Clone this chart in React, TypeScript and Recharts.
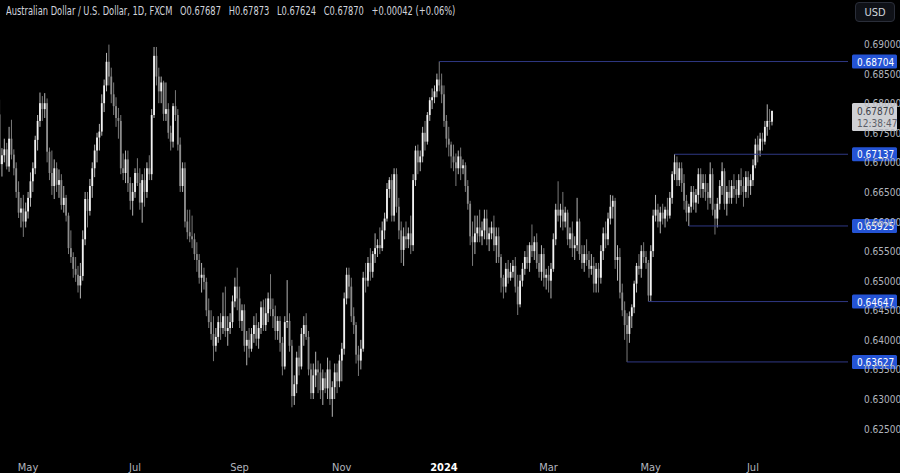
import React from "react";
import { ComposedChart, Bar, XAxis, YAxis, ReferenceLine } from "recharts";

// AUD/USD daily, FXCM — prices in pips (x 1e-4), one entry per trading day (Apr 13 2023 .. Jul 11 2024)
const opens = [
  6781, 6697, 6712, 6722, 6693, 6740, 6713, 6690, 6650, 6615, 6622, 6600,
  6617, 6640, 6668, 6690, 6738, 6770, 6800, 6790, 6800, 6718, 6682, 6660, 6690, 6662, 6670, 6628, 6640, 6610, 6555, 6540, 6520, 6510, 6492,
  6508, 6570, 6638, 6618, 6660, 6690, 6720, 6742, 6752, 6800, 6830, 6870, 6845, 6815, 6795, 6775, 6770, 6690, 6682, 6705, 6665, 6635,
  6650, 6682, 6665, 6632, 6670, 6650, 6690, 6680, 6780, 6880, 6845, 6820, 6835, 6782, 6790, 6750, 6735, 6795, 6780, 6730, 6660,
  6690, 6600, 6582, 6575, 6570, 6545, 6535, 6505, 6510, 6498, 6450, 6430, 6410, 6390, 6405, 6430, 6420, 6440, 6415, 6420, 6430, 6465, 6490,
  6470, 6432, 6450, 6390, 6400, 6385, 6410, 6425, 6402, 6420, 6455, 6425, 6445, 6470, 6452, 6440, 6415, 6432, 6395, 6355, 6430,
  6432, 6390, 6305, 6325, 6370, 6355, 6410, 6425, 6405, 6350, 6310, 6340, 6350, 6345, 6315, 6335, 6318, 6350, 6300, 6320, 6345, 6330,
  6365, 6385, 6470, 6510, 6490, 6440, 6425, 6375, 6365, 6385, 6505, 6500, 6530, 6515, 6545, 6555, 6560, 6555, 6585, 6605, 6655, 6670,
  6610, 6680, 6625, 6585, 6552, 6575, 6570, 6580, 6560, 6670, 6720, 6700, 6710, 6750, 6735, 6780, 6805, 6810, 6820, 6840, 6830,
  6815, 6770, 6740, 6730, 6710, 6700, 6690, 6710, 6690, 6695, 6660, 6630, 6575, 6565, 6580, 6590, 6575, 6585, 6605, 6570, 6580, 6590, 6560,
  6575, 6540, 6505, 6490, 6520, 6505, 6515, 6525, 6490, 6460, 6500, 6520, 6540, 6530, 6560, 6550, 6565, 6530, 6515, 6545, 6505,
  6510, 6500, 6520, 6570, 6620, 6610, 6620, 6600, 6615, 6570, 6580, 6555, 6560, 6600, 6545, 6530, 6545, 6535, 6520, 6525, 6495,
  6520, 6505, 6550, 6580, 6570, 6605, 6625, 6635, 6535, 6540, 6480, 6450, 6425, 6410, 6440, 6455, 6495, 6525, 6520, 6550, 6540, 6530,
  6475, 6550, 6610, 6620, 6600, 6615, 6605, 6620, 6610, 6640, 6680, 6700, 6670, 6690, 6665, 6635, 6615, 6625, 6650, 6632, 6645, 6680, 6655,
  6665, 6650, 6640, 6680, 6620, 6605, 6630, 6660, 6685, 6630, 6650, 6640, 6660, 6655, 6645, 6670, 6660, 6650, 6675, 6660,
  6670, 6695, 6730, 6720, 6740, 6735, 6760, 6770, 6768.7,
];

const highs = [
  6806, 6724, 6740, 6733, 6760, 6772, 6722, 6700, 6668, 6640, 6645, 6632,
  6650, 6683, 6700, 6745, 6780, 6818, 6812, 6817, 6808, 6725, 6720, 6705, 6700, 6688, 6680, 6660, 6645, 6615, 6585, 6548, 6540, 6525, 6530,
  6585, 6650, 6650, 6672, 6700, 6730, 6750, 6765, 6815, 6840, 6885, 6899, 6860, 6835, 6810, 6792, 6780, 6715, 6720, 6720, 6675, 6665,
  6690, 6707, 6690, 6680, 6690, 6700, 6712, 6790, 6895, 6895, 6860, 6845, 6838, 6835, 6800, 6762, 6800, 6822, 6790, 6742, 6700,
  6700, 6620, 6620, 6610, 6580, 6565, 6545, 6530, 6522, 6505, 6470, 6450, 6440, 6420, 6440, 6445, 6480, 6490, 6440, 6445, 6475, 6505, 6522,
  6490, 6460, 6460, 6415, 6420, 6420, 6440, 6445, 6430, 6465, 6468, 6470, 6480, 6511, 6470, 6458, 6440, 6440, 6405, 6440, 6501,
  6445, 6400, 6340, 6380, 6390, 6420, 6440, 6445, 6415, 6360, 6360, 6380, 6365, 6360, 6350, 6345, 6370, 6365, 6330, 6360, 6360, 6375,
  6395, 6480, 6522, 6522, 6505, 6455, 6430, 6390, 6400, 6515, 6530, 6540, 6555, 6550, 6580, 6570, 6590, 6600, 6615, 6665, 6675, 6680,
  6690, 6690, 6640, 6600, 6590, 6600, 6590, 6610, 6680, 6728, 6730, 6720, 6760, 6770, 6785, 6810, 6825, 6830, 6850, 6870.4, 6850,
  6830, 6780, 6760, 6735, 6730, 6715, 6720, 6725, 6705, 6700, 6670, 6635, 6600, 6610, 6610, 6620, 6600, 6620, 6620, 6590, 6600, 6610, 6590,
  6590, 6545, 6510, 6530, 6535, 6530, 6535, 6540, 6510, 6510, 6530, 6550, 6560, 6565, 6595, 6575, 6580, 6545, 6560, 6555, 6520,
  6525, 6530, 6580, 6630, 6668, 6630, 6650, 6625, 6620, 6590, 6600, 6575, 6640, 6605, 6560, 6560, 6570, 6550, 6545, 6540, 6530,
  6530, 6560, 6590, 6600, 6615, 6645, 6644, 6640, 6560, 6555, 6495, 6465, 6445, 6448, 6460, 6500, 6530, 6545, 6560, 6565, 6550, 6535,
  6560, 6620, 6645, 6630, 6625, 6630, 6625, 6640, 6650, 6685, 6713.7, 6710, 6700, 6700, 6680, 6645, 6630, 6660, 6660, 6655, 6690, 6690, 6680,
  6680, 6665, 6700, 6690, 6630, 6640, 6670, 6700, 6690, 6660, 6670, 6670, 6680, 6670, 6680, 6690, 6675, 6685, 6685, 6680,
  6705, 6740, 6745, 6750, 6750, 6770, 6798, 6790, 6787.3,
];

const lows = [
  6688, 6676, 6700, 6688, 6684, 6705, 6678, 6640, 6606, 6590, 6574, 6590,
  6605, 6625, 6650, 6680, 6720, 6760, 6770, 6775, 6700, 6670, 6645, 6638, 6650, 6640, 6620, 6615, 6600, 6545, 6530, 6505, 6498, 6480, 6470,
  6500, 6560, 6590, 6610, 6640, 6675, 6700, 6720, 6745, 6785, 6820, 6830, 6800, 6780, 6760, 6740, 6680, 6670, 6665, 6650, 6620, 6610,
  6640, 6660, 6620, 6598, 6625, 6640, 6670, 6670, 6775, 6830, 6800, 6800, 6770, 6770, 6740, 6720, 6725, 6770, 6720, 6650, 6650,
  6590, 6570, 6565, 6555, 6535, 6515, 6495, 6480, 6485, 6440, 6420, 6400, 6364, 6380, 6395, 6400, 6410, 6405, 6390, 6410, 6420, 6455, 6450,
  6420, 6415, 6380, 6357, 6370, 6380, 6395, 6390, 6385, 6410, 6415, 6415, 6430, 6440, 6420, 6400, 6400, 6380, 6340, 6350, 6420,
  6380, 6286, 6290, 6310, 6340, 6350, 6390, 6400, 6340, 6300, 6300, 6320, 6310, 6300, 6290, 6310, 6300, 6290, 6270, 6300, 6310, 6320,
  6330, 6375, 6460, 6470, 6430, 6410, 6360, 6339, 6350, 6380, 6480, 6490, 6500, 6505, 6530, 6540, 6545, 6550, 6570, 6600, 6640, 6600,
  6600, 6615, 6570, 6530, 6525, 6555, 6555, 6545, 6550, 6660, 6680, 6685, 6700, 6720, 6730, 6770, 6790, 6800, 6810, 6820, 6800,
  6760, 6725, 6710, 6690, 6685, 6660, 6680, 6670, 6680, 6650, 6620, 6560, 6525, 6545, 6565, 6565, 6560, 6570, 6560, 6550, 6570, 6550, 6530,
  6530, 6480, 6470, 6480, 6495, 6500, 6505, 6480, 6442, 6455, 6490, 6510, 6520, 6515, 6540, 6535, 6520, 6505, 6500, 6490, 6485,
  6480, 6470, 6515, 6560, 6600, 6590, 6585, 6590, 6560, 6555, 6540, 6535, 6550, 6535, 6520, 6515, 6525, 6505, 6510, 6480, 6480,
  6480, 6495, 6535, 6555, 6560, 6595, 6605, 6520, 6500, 6470, 6440, 6400, 6362.7, 6395, 6420, 6445, 6480, 6510, 6505, 6530, 6520, 6464.7,
  6465, 6540, 6600, 6590, 6580, 6595, 6590, 6600, 6605, 6630, 6670, 6660, 6660, 6650, 6620, 6600, 6592.5, 6615, 6620, 6615, 6630, 6640, 6640,
  6635, 6620, 6630, 6610, 6578, 6590, 6620, 6645, 6620, 6610, 6630, 6630, 6640, 6630, 6640, 6645, 6625, 6640, 6640, 6645,
  6660, 6690, 6700, 6710, 6720, 6730, 6745, 6755, 6762.4,
];

const closes = [
  6697, 6712, 6722, 6693, 6740, 6713, 6690, 6650, 6615, 6622, 6600, 6617,
  6640, 6668, 6690, 6738, 6770, 6800, 6790, 6800, 6718, 6682, 6660, 6690, 6662, 6670, 6628, 6640, 6610, 6555, 6540, 6520, 6510, 6492, 6508,
  6570, 6638, 6618, 6660, 6690, 6720, 6742, 6752, 6800, 6830, 6870, 6845, 6815, 6795, 6775, 6770, 6690, 6682, 6705, 6665, 6635, 6650,
  6682, 6665, 6632, 6670, 6650, 6690, 6680, 6780, 6880, 6845, 6820, 6835, 6782, 6790, 6750, 6735, 6795, 6780, 6730, 6660, 6690,
  6600, 6582, 6575, 6570, 6545, 6535, 6505, 6510, 6498, 6450, 6430, 6410, 6390, 6405, 6430, 6420, 6440, 6415, 6420, 6430, 6465, 6490, 6470,
  6432, 6450, 6390, 6400, 6385, 6410, 6425, 6402, 6420, 6455, 6425, 6445, 6470, 6452, 6440, 6415, 6432, 6395, 6355, 6430, 6432,
  6390, 6305, 6325, 6370, 6355, 6410, 6425, 6405, 6350, 6310, 6340, 6350, 6345, 6315, 6335, 6318, 6350, 6300, 6320, 6345, 6330, 6365,
  6385, 6470, 6510, 6490, 6440, 6425, 6375, 6365, 6385, 6505, 6500, 6530, 6515, 6545, 6555, 6560, 6555, 6585, 6605, 6655, 6670, 6610,
  6680, 6625, 6585, 6552, 6575, 6570, 6580, 6560, 6670, 6720, 6700, 6710, 6750, 6735, 6780, 6805, 6810, 6820, 6840, 6830, 6815,
  6770, 6740, 6730, 6710, 6700, 6690, 6710, 6690, 6695, 6660, 6630, 6575, 6565, 6580, 6590, 6575, 6585, 6605, 6570, 6580, 6590, 6560, 6575,
  6540, 6505, 6490, 6520, 6505, 6515, 6525, 6490, 6460, 6500, 6520, 6540, 6530, 6560, 6550, 6565, 6530, 6515, 6545, 6505, 6510,
  6500, 6520, 6570, 6620, 6610, 6620, 6600, 6615, 6570, 6580, 6555, 6560, 6600, 6545, 6530, 6545, 6535, 6520, 6525, 6495, 6520,
  6505, 6550, 6580, 6570, 6605, 6625, 6635, 6535, 6540, 6480, 6450, 6425, 6410, 6440, 6455, 6495, 6525, 6520, 6550, 6540, 6530, 6475,
  6550, 6610, 6620, 6600, 6615, 6605, 6620, 6610, 6640, 6680, 6700, 6670, 6690, 6665, 6635, 6615, 6625, 6650, 6632, 6645, 6680, 6655, 6665,
  6650, 6640, 6680, 6620, 6605, 6630, 6660, 6685, 6630, 6650, 6640, 6660, 6655, 6645, 6670, 6660, 6650, 6675, 6660, 6670,
  6695, 6730, 6720, 6740, 6735, 6760, 6770, 6769, 6787,
];

// time axis labels (index of the first trading day of the month)
const tickIdx = [12, 57, 101, 144, 187, 231, 274, 317];
const tickLabels = ["May", "Jul", "Sep", "Nov", "2024", "Mar", "May", "Jul"];

const priceTicks = [6250, 6300, 6350, 6400, 6450, 6500, 6550, 6600, 6650, 6700, 6750, 6800, 6850, 6900];

// horizontal levels drawn on the chart: price and the bar they start from
const levelPrices = [6870.4, 6713.7, 6592.5, 6464.7, 6362.7];
const levelStart = [185, 284, 290, 273, 264];

const lastPrice = 6787.0;
const countdown = "12:38:47";
const headerTitle = "Australian Dollar / U.S. Dollar, 1D, FXCM";
const headerValues = ["O0.67687", "H0.67873", "L0.67624", "C0.67870", "+0.00042 (+0.06%)"];

const rows = closes.map((c, i) => ({ i, o: opens[i], h: highs[i], l: lows[i], c }));

const X_MAX = 357;
const FONT = "'DejaVu Sans Condensed', 'Liberation Sans', sans-serif";
const fmt = (v: number) => (v / 10000).toFixed(5);

const Candle = (props: any) => {
  const { x, width, y, height, payload } = props;
  if (!payload || y == null || height == null) return null;
  const { o, h, l, c } = payload;
  const top = height >= 0 ? y : y + height;
  const hh = Math.abs(height);
  const k = h - l > 0 ? hh / (h - l) : 0;
  const cx = x + width / 2;
  const yO = top + (h - o) * k;
  const yC = top + (h - c) * k;
  const up = c >= o;
  const bw = 1.8;
  return (
    <g>
      <line x1={cx} x2={cx} y1={top} y2={top + hh} stroke={up ? "#b4b4b4" : "#7a7a7a"} strokeWidth={1} />
      <rect
        x={cx - bw / 2}
        y={Math.min(yO, yC)}
        width={bw}
        height={Math.max(Math.abs(yC - yO), 1)}
        fill={up ? "#f2f2f2" : "#8c8c8c"}
      />
    </g>
  );
};

const XTick = ({ x, y, payload }: any) => {
  const k = tickIdx.indexOf(payload.value);
  const label = tickLabels[k];
  const bold = label === "2024";
  return (
    <text x={x} y={y + 18} textAnchor="middle" fontSize={11} fontFamily={FONT}
      fill={bold ? "#ffffff" : "#b2b5be"} fontWeight={bold ? 700 : 400}>
      {label}
    </text>
  );
};

const YTick = ({ x, y, payload }: any) => (
  <text x={x + 8} y={y + 4} textAnchor="start" fontSize={10} fontFamily={FONT} fill="#b2b5be">
    {fmt(payload.value)}
  </text>
);

const PriceTag = ({ viewBox, text }: any) => {
  if (!viewBox) return null;
  const px = viewBox.x + viewBox.width + 4;
  const py = viewBox.y;
  return (
    <g>
      <rect x={px} y={py - 7} width={45} height={14} rx={1.5} fill="#2453d4" />
      <text x={px + 5} y={py + 4} fontSize={10} fontFamily={FONT} fill="#ffffff">{text}</text>
    </g>
  );
};

const LastTag = ({ viewBox }: any) => {
  if (!viewBox) return null;
  const px = viewBox.x + viewBox.width + 4;
  const py = viewBox.y;
  return (
    <g>
      <rect x={px} y={py - 8} width={45} height={28} rx={1.5} fill="#cfd0d4" />
      <text x={px + 5} y={py + 4} fontSize={10} fontFamily={FONT} fill="#3a3d46">{fmt(lastPrice)}</text>
      <text x={px + 5} y={py + 16} fontSize={10} fontFamily={FONT} fill="#5b5e68">{countdown}</text>
    </g>
  );
};

export default function App() {
  return (
    <div style={{ position: "absolute", left: 0, top: 0, width: 900, height: 473, background: "#000", overflow: "hidden" }}>
      <ComposedChart width={900} height={473} data={rows} margin={{ top: 0, right: 0, bottom: 0, left: 0 }}>
        <XAxis
          dataKey="i"
          type="number"
          domain={[0.2, X_MAX]}
          allowDataOverflow
          ticks={tickIdx}
          interval={0}
          tick={<XTick />}
          axisLine={false}
          tickLine={false}
          height={28}
        />
        <YAxis
          orientation="right"
          type="number"
          domain={[6222.3, 6974.4]}
          allowDataOverflow
          ticks={priceTicks}
          interval={0}
          tick={<YTick />}
          axisLine={false}
          tickLine={false}
          width={52}
        />
        <Bar
          dataKey={(d: any) => [d.l, d.h]}
          shape={<Candle />}
          isAnimationActive={false}
        />
        {levelPrices.map((p, k) => (
          <ReferenceLine
            key={k}
            segment={[{ x: levelStart[k], y: p }, { x: X_MAX, y: p }]}
            stroke="#2f3884"
            strokeWidth={1}
            label={<PriceTag text={fmt(p)} />}
          />
        ))}
        <ReferenceLine
          segment={[{ x: X_MAX - 1, y: lastPrice }, { x: X_MAX, y: lastPrice }]}
          stroke="none"
          label={<LastTag />}
        />
      </ComposedChart>
      <div style={{
        position: "absolute", left: 6, top: 4, fontFamily: FONT, fontSize: 12, color: "#d1d4dc", whiteSpace: "nowrap",
        transform: "scaleX(0.77)", transformOrigin: "0 0",
      }}>
        {headerTitle}
        {headerValues.map((v) => (
          <span key={v} style={{ marginLeft: 10 }}>{v}</span>
        ))}
      </div>
      <div style={{
        position: "absolute", left: 855, top: 2, width: 40, height: 20, border: "1px solid #2a2e39", borderRadius: 4,
        background: "#0f1117", color: "#d1d4dc", fontFamily: FONT, fontSize: 11, lineHeight: "20px", textAlign: "center", boxSizing: "border-box",
      }}>USD</div>
    </div>
  );
}
